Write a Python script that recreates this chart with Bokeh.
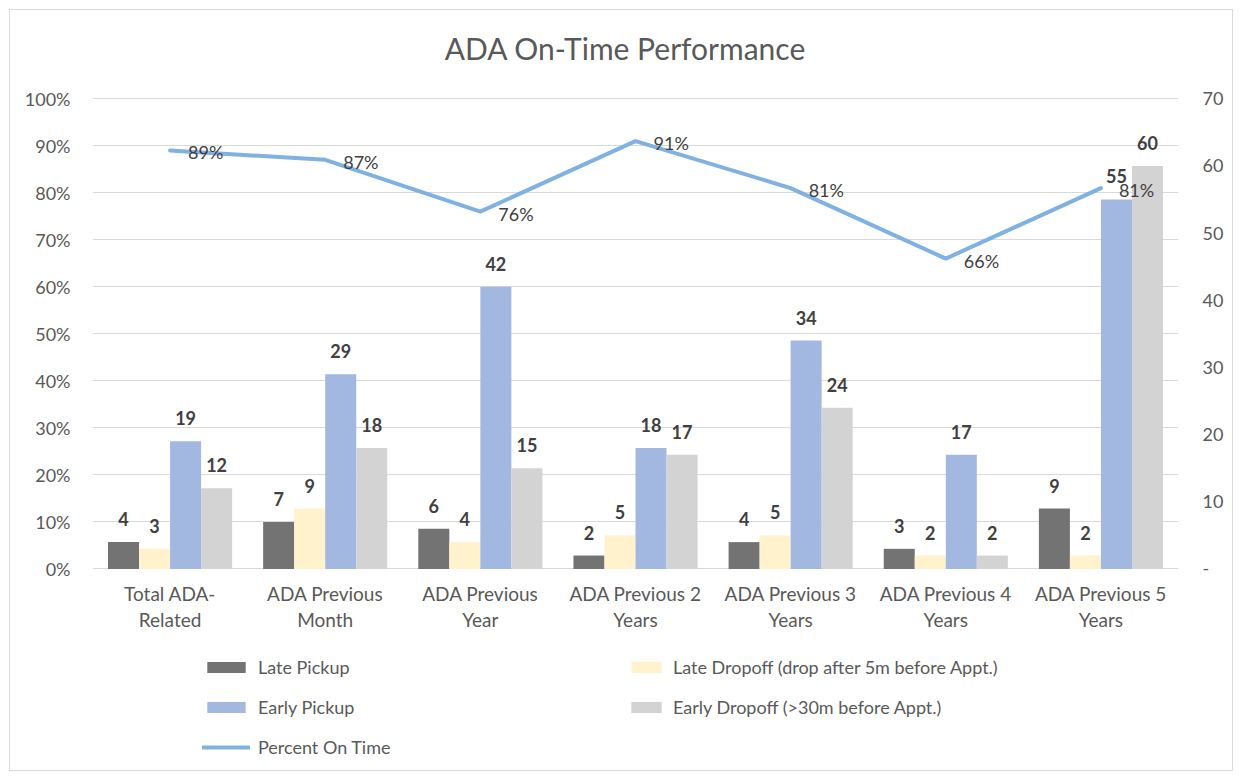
from bokeh.plotting import figure
from bokeh.models import (ColumnDataSource, Range1d, LinearAxis, FixedTicker,
                          Legend, LegendItem, NumeralTickFormatter, CustomJSTickFormatter)
from bokeh.embed import file_html
from bokeh.resources import INLINE
from bokeh.core.properties import value

# ---------------- data ----------------
title_text = "ADA On-Time Performance"
tick_labels = ["Total ADA-\nRelated", "ADA Previous\nMonth", "ADA Previous\nYear",
               "ADA Previous 2\nYears", "ADA Previous 3\nYears", "ADA Previous 4\nYears",
               "ADA Previous 5\nYears"]
late_pickup = [4, 7, 6, 2, 4, 3, 9]
late_dropoff = [3, 9, 4, 5, 5, 2, 2]
early_pickup = [19, 29, 42, 18, 34, 17, 55]
early_dropoff = [12, 18, 15, 17, 24, 2, 60]
pct_on_time = [0.89, 0.87, 0.76, 0.91, 0.81, 0.66, 0.81]

series_names = ["Late Pickup", "Late Dropoff (drop after 5m before Appt.)",
                "Early Pickup", "Early Dropoff (>30m before Appt.)"]
series_vals = [late_pickup, late_dropoff, early_pickup, early_dropoff]
series_colors = ["#737373", "#FFF2CC", "#A2B8E1", "#D3D3D3"]
line_color = "#7FB1E2"

FONT = "Lato"
TXT = "#595959"

# ---------------- layout constants (pixels) ----------------
PLOT_H = 469        # height of the 0..100% band
ABOVE_H = 88        # frame extends above 100% to host the title
BELOW_H = 198       # frame extends below the zero line to host labels + legend
PCT_MAX = 1.0
CNT_MAX = 70
lo = -BELOW_H / PLOT_H
hi = 1 + ABOVE_H / PLOT_H

n = len(tick_labels)
xs = list(range(n))

p = figure(width=1224, height=762, output_backend="svg", toolbar_location=None,
           x_range=Range1d(-0.5, n - 0.5),
           y_range=Range1d(lo * PCT_MAX, hi * PCT_MAX),
           min_border_left=82, min_border_right=56, min_border_top=0,
           min_border_bottom=5, outline_line_color=None,
           styles={"border": "1px solid #D9D9D9", "margin-left": "9px", "margin-top": "9px"})
p.extra_y_ranges = {"count": Range1d(lo * CNT_MAX, hi * CNT_MAX)}

# axes
p.xaxis.visible = False

p.yaxis.ticker = FixedTicker(ticks=[i / 10 for i in range(11)])
p.yaxis.formatter = NumeralTickFormatter(format="0%")
p.yaxis.axis_line_color = None
p.yaxis.major_tick_line_color = None
p.yaxis.minor_tick_line_color = None
p.yaxis.major_tick_out = 0
p.yaxis.major_tick_in = 0
p.yaxis.minor_tick_out = 0
p.yaxis.major_label_text_font = FONT
p.yaxis.major_label_text_font_size = "18px"
p.yaxis.major_label_text_color = TXT
p.yaxis.major_label_standoff = 22

raxis = LinearAxis(y_range_name="count", ticker=FixedTicker(ticks=list(range(0, CNT_MAX + 1, 10))),
                   formatter=CustomJSTickFormatter(code="return tick == 0 ? '-' : tick.toString();"))
raxis.axis_line_color = None
raxis.major_tick_line_color = None
raxis.minor_tick_line_color = None
raxis.major_tick_out = 0
raxis.major_tick_in = 0
raxis.minor_tick_out = 0
raxis.major_label_text_font = FONT
raxis.major_label_text_font_size = "18px"
raxis.major_label_text_color = TXT
raxis.major_label_standoff = 24
p.add_layout(raxis, "right")

p.xgrid.grid_line_color = None
p.ygrid.grid_line_color = "#D9D9D9"
p.ygrid.grid_line_width = 1

# title (drawn inside the extended frame, above the 100% line)
tsrc = ColumnDataSource(dict(x=[(n - 1) / 2], y=[hi * PCT_MAX], t=[title_text]))
p.text(x="x", y="y", text="t", source=tsrc, text_align="center", text_baseline="middle",
       x_offset=-10, y_offset=37, text_font=value(FONT), text_font_size="30px",
       text_color=TXT)

# category labels under the zero line
csrc = ColumnDataSource(dict(x=xs, y=[0] * n, lbl=tick_labels))
p.text(x="x", y="y", text="lbl", source=csrc, text_align="center", text_baseline="top",
       y_offset=13, text_line_height=1.15, text_font=value(FONT), text_font_size="19px",
       text_color=TXT)

# bars
bw = 0.2
offsets = [-0.3, -0.1, 0.1, 0.3]
bar_renderers = []
for name, vals, col, off in zip(series_names, series_vals, series_colors, offsets):
    src = ColumnDataSource(dict(x=[i + off for i in xs], top=vals,
                                lbl=[str(v) for v in vals]))
    r = p.vbar(x="x", top="top", bottom=0, width=bw, source=src, y_range_name="count",
               fill_color=col, line_color=None)
    bar_renderers.append(r)
    p.text(x="x", y="top", text="lbl", source=src, y_range_name="count",
           text_align="center", text_baseline="bottom", y_offset=-16,
           text_font=value(FONT), text_font_size="18px", text_font_style="bold",
           text_color="#404040")

# line
lsrc = ColumnDataSource(dict(x=xs, y=pct_on_time,
                             lbl=["%d%%" % round(v * 100) for v in pct_on_time]))
lr = p.line(x="x", y="y", source=lsrc, line_color=line_color, line_width=4,
            line_join="round", line_cap="round")
p.text(x="x", y="y", text="lbl", source=lsrc, text_align="left", text_baseline="middle",
       x_offset=18, y_offset=2, text_font=value(FONT), text_font_size="18px",
       text_color="#404040")

# legends (two columns)
leg1 = Legend(items=[LegendItem(label=series_names[0], renderers=[bar_renderers[0]]),
                     LegendItem(label=series_names[2], renderers=[bar_renderers[2]]),
                     LegendItem(label="Percent On Time", renderers=[lr])],
              location=(110, 9))
leg2 = Legend(items=[LegendItem(label=series_names[1], renderers=[bar_renderers[1]]),
                     LegendItem(label=series_names[3], renderers=[bar_renderers[3]])],
              location=(535, 49))
for lg, gw in ((leg1, 48), (leg2, 38)):
    lg.glyph_width = gw
    lg.glyph_height = 14
    lg.label_height = 22
    lg.spacing = 18
    lg.padding = 0
    lg.margin = 0
    lg.label_standoff = 8
    lg.border_line_color = None
    lg.background_fill_alpha = 0
    lg.label_text_font = FONT
    lg.label_text_font_size = "18px"
    lg.label_text_color = TXT
    p.add_layout(lg, "center")

open("out.html", "w").write(file_html(p, INLINE))
